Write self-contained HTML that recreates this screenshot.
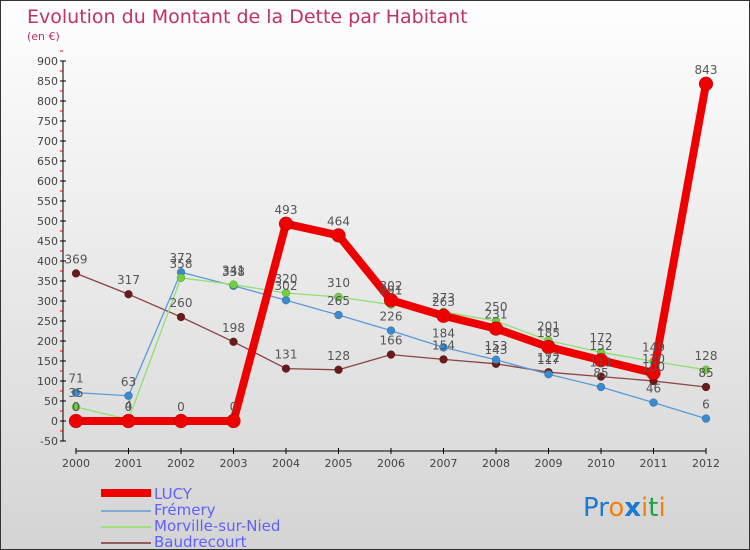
<!DOCTYPE html>
<html><head><meta charset="utf-8"><style>
body{margin:0}
#wrap{position:relative;width:750px;height:550px;overflow:hidden;background:linear-gradient(#fefefe,#d4d4d4);font-family:"DejaVu Sans","Liberation Sans",sans-serif;box-sizing:border-box;border:1px solid #333}
</style></head><body>
<div id="wrap">
<svg id="svg" width="750" height="550" style="position:absolute;left:0;top:0">
<text x="26" y="22" font-size="19" fill="#c0306a">Evolution du Montant de la Dette par Habitant</text>
<text x="26" y="39" font-size="11" fill="#c0306a">(en €)</text>
<g id="axes"></g><g id="series"></g><g id="labels"></g>
<g font-size="15" fill="#6060ff">
<rect x="100" y="488" width="50" height="8" fill="#e00"/>
<text x="153" y="498">LUCY</text>
<rect x="100" y="509" width="50" height="2" fill="#80a8d0"/>
<text x="153" y="514">Frémery</text>
<rect x="100" y="525" width="50" height="2" fill="#a0e080"/>
<text x="153" y="530">Morville-sur-Nied</text>
<rect x="100" y="541" width="50" height="2" fill="#906060"/>
<text x="153" y="546">Baudrecourt</text>
</g>
<text x="582" y="515" font-size="26"><tspan fill="#1a7ad0">Pr</tspan><tspan fill="#f08010">o</tspan><tspan fill="#1a7ad0" font-weight="bold">x</tspan><tspan fill="#f08010">i</tspan><tspan fill="#20a040">t</tspan><tspan fill="#f08010">i</tspan></text>
</svg></div>
<script>
const years=[2000,2001,2002,2003,2004,2005,2006,2007,2008,2009,2010,2011,2012];
const lucy=[0,0,0,0,493,464,302,263,231,185,152,120,843];
const fremery=[71,63,372,338,302,265,226,184,153,117,85,46,6];
const morville=[35,4,358,341,320,310,291,273,250,201,172,149,128];
const baudrecourt=[369,317,260,198,131,128,166,154,143,122,111,100,85];
const yTicks=[-50,0,50,100,150,200,250,300,350,400,450,500,550,600,650,700,750,800,850,900];
const NS="http://www.w3.org/2000/svg";
const X=i=>75+i*52.5, Y=v=>420-v*0.4;
function mk(t,a,p){const e=document.createElementNS(NS,t);for(const k in a)e.setAttribute(k,a[k]);p.appendChild(e);return e;}
const ax=document.getElementById('axes');
let l=mk('line',{x1:62,y1:Y(-50),x2:62,y2:Y(900),stroke:'#000'},ax);

yTicks.forEach(v=>{mk('line',{x1:59,x2:65,y1:Y(v),y2:Y(v),stroke:'#000'},ax);
 mk('line',{x1:59,x2:62,y1:Y(v+25),y2:Y(v+25),stroke:'#e00'},ax);
 const t=mk('text',{x:57,y:Y(v)+4,'font-size':11,fill:'#444','text-anchor':'end'},ax);t.textContent=v;
 });
l=mk('line',{x1:75,y1:450,x2:705,y2:450,stroke:'#000'},ax);

years.forEach((y,i)=>{mk('line',{x1:X(i),x2:X(i),y1:447,y2:453,stroke:'#000'},ax);
 const t=mk('text',{x:X(i),y:466,'font-size':11,fill:'#444','text-anchor':'middle'},ax);t.textContent=y;
 });
const sg=document.getElementById('series'),lg=document.getElementById('labels');
function series(d,name,col,w,r,mc){
 const p=mk('polyline',{points:d.map((v,i)=>X(i)+','+Y(v)).join(' '),fill:'none',stroke:col,'stroke-width':w,'stroke-linejoin':'round'},sg);
 
 d.forEach((v,i)=>{const c=mk('circle',{cx:X(i),cy:Y(v),r:r,fill:mc,stroke:'rgba(0,0,0,0.3)','stroke-width':0.5},sg);
  
  const t=mk('text',{x:X(i),y:Y(v)-10,'font-size':12,fill:'#555','text-anchor':'middle'},lg);t.textContent=v;
  });
}
series(baudrecourt,'baudrecourt','#8a4444',1.3,4,'#6a1a1a');
series(fremery,'fremery','#5a9ad8',1.3,4,'#3a8ad0');
series(morville,'morville','#90e070',1.3,4,'#70d040');
series(lucy,'lucy','#ee0000',8,7,'#ee0000');
</script>
</body></html>
